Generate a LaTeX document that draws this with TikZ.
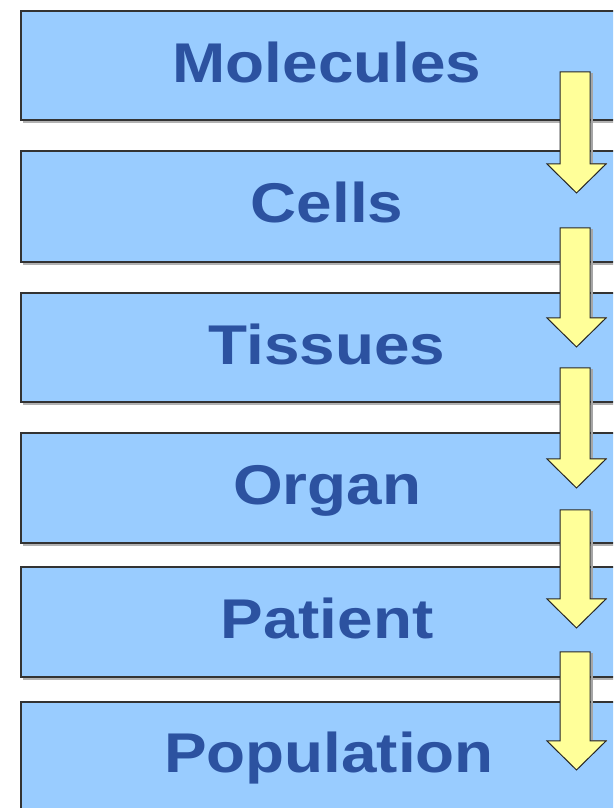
\documentclass[tikz,border=0pt]{standalone}
\usepackage{fontspec}
\setmainfont{Liberation Sans}
\definecolor{boxfill}{RGB}{153,204,255}
\definecolor{txtblue}{RGB}{44,82,160}
\definecolor{arrfill}{RGB}{255,255,153}
\tikzset{
  lvlbox/.style={fill=boxfill,draw=black!80,line width=1.6pt},
  lvltext/.style={anchor=base,text=txtblue,font=\bfseries\fontsize{56}{60}\selectfont,inner sep=0pt},
  blockarrow/.style={fill=arrfill,draw=black!85,line width=1pt,line join=miter}
}
\newcommand{\lvlarrow}[2]{%
  % #1 top (y-down px), #2 tip (y-down px)
  \draw[black!35,line width=2pt] (591.5,{808-#1-1}) -- (591.5,{808-(#2-29)}) -- (607,{808-(#2-29)});
  \draw[blockarrow] (560,{808-#1}) -- (590,{808-#1}) -- (590,{808-(#2-29)}) -- (606,{808-(#2-29)})
     -- (576.5,{808-#2}) -- (547,{808-(#2-29)}) -- (560,{808-(#2-29)}) -- cycle;
}
\begin{document}
\begin{tikzpicture}[x=1pt,y=1pt]
\useasboundingbox (0,0) rectangle (613,808);
\clip (0,0) rectangle (613,808);
\fill[white] (0,0) rectangle (613,808);
% boxes (tops / bottoms measured from the top edge)
\foreach \t/\b/\nm in {11/120/b1,151/262/b2,293/402/b3,433/543/b4,567/677/b5,702/830/b6}{
  \draw[black!30,line width=2pt] (23,{808-\b-2}) -- (640,{808-\b-2});
  \draw[lvlbox] (21,{808-\t}) rectangle (650,{808-\b});
}
\node[lvltext] (molecules) at (327,{808-83}) {\scalebox{1.14}[1]{Molecules}};
\node[lvltext] (cells) at (327,{808-223}) {\scalebox{1.14}[1]{Cells}};
\node[lvltext] (tissues) at (327,{808-365}) {\scalebox{1.14}[1]{Tissues}};
\node[lvltext] (organ) at (327,{808-505}) {\scalebox{1.14}[1]{Organ}};
\node[lvltext] (patient) at (327,{808-639}) {\scalebox{1.14}[1]{Patient}};
\node[lvltext] (population) at (329,{808-773}) {\scalebox{1.14}[1]{Population}};
% arrows
\lvlarrow{72}{193}
\lvlarrow{228}{347}
\lvlarrow{368}{488}
\lvlarrow{510}{628}
\lvlarrow{652}{770}
\end{tikzpicture}
\end{document}
